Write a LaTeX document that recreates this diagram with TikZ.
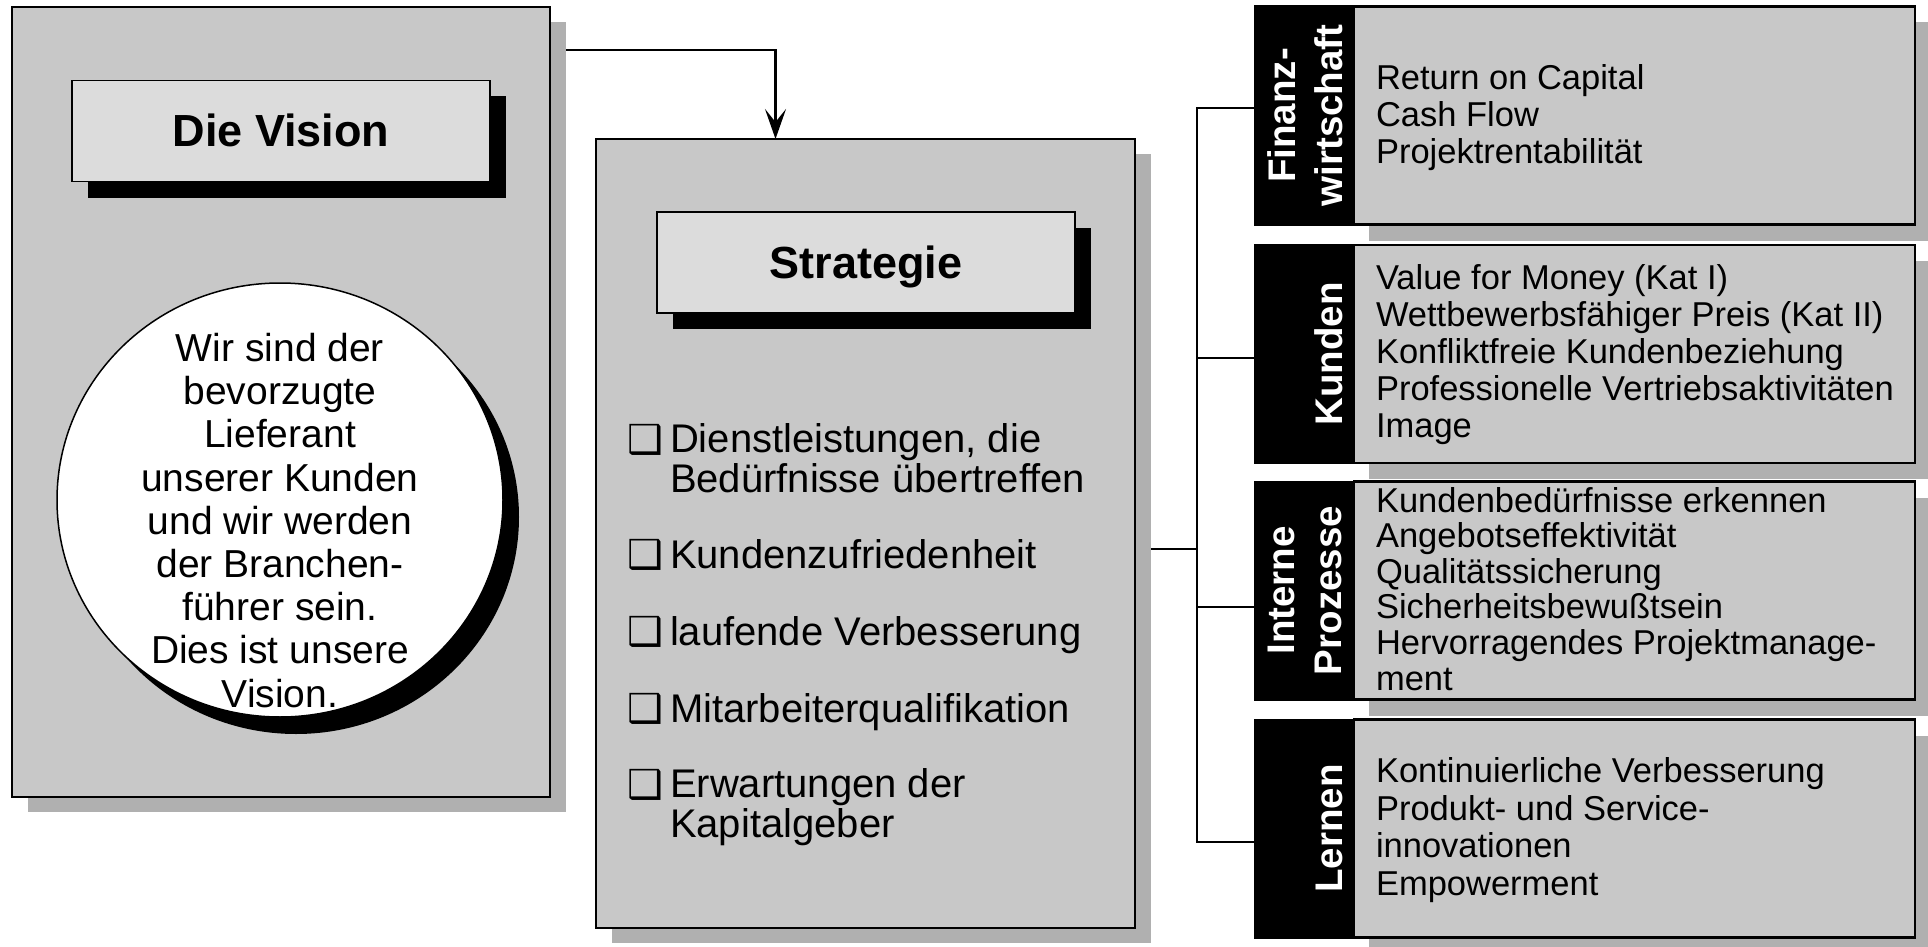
\documentclass[tikz,border=0pt]{standalone}
\usepackage{fontspec}
\setmainfont{Liberation Sans}
\newfontfamily\symfont{DejaVu Sans}
\usetikzlibrary{shapes.geometric,shadows,arrows.meta,calc}

\definecolor{boxgray}{HTML}{C8C8C8}
\definecolor{shadegray}{HTML}{B0B0B0}
\definecolor{titlegray}{HTML}{DCDCDC}

\begin{document}
\begin{tikzpicture}[x=1pt,y=-1pt,
  every node/.style={inner sep=0pt, outer sep=0pt},
  bigbox/.style={draw=black, line width=2pt, fill=boxgray,
    drop shadow={shadow xshift=16pt, shadow yshift=-15pt, fill=shadegray, opacity=1}},
  titlebox/.style={draw=black, line width=1.5pt, fill=titlegray,
    minimum width=418pt, minimum height=101pt,
    text height=32pt, text depth=0pt,
    font=\fontsize{45}{54}\selectfont\bfseries,
    drop shadow={shadow xshift=16pt, shadow yshift=-16pt, fill=black, opacity=1}},
  strip/.style={draw=black, line width=2pt, fill=black,
    minimum width=99pt, minimum height=218pt},
  listbox/.style={draw=black, line width=2.5pt, fill=boxgray,
    minimum width=561pt, minimum height=218pt,
    drop shadow={shadow xshift=15pt, shadow yshift=-16pt, fill=shadegray, opacity=1}},
  % the base anchor of a multi-line node sits on its last line
  striplabel/.style={text=white, rotate=90, anchor=base, align=center,
    font=\fontsize{38.5}{47}\selectfont\bfseries},
  listtext/.style={anchor=base west, align=left, font=\fontsize{34.5}{37}\selectfont},
  bullettext/.style={anchor=base west, align=left, font=\fontsize{40}{39.5}\selectfont},
  bulletmark/.style={anchor=base west, font=\symfont\fontsize{40}{40}\selectfont},
  conn/.style={line width=2.5pt, draw=black},
]
\useasboundingbox (0,0) rectangle (1928,947);
\clip (0,0) rectangle (1928,947);
\fill[white] (0,0) rectangle (1928,947);

% ---------- Vision column ----------
\node[bigbox, minimum width=538pt, minimum height=790pt] (vision) at (281,402) {};
\node[titlebox] (visiontitle) at (281,131) {Die Vision};
\node[ellipse, draw=black, line width=1.5pt, fill=white,
      minimum width=446pt, minimum height=434pt,
      drop shadow={shadow xshift=16pt, shadow yshift=-17pt, fill=black, opacity=1}]
      (visioncircle) at (280,500) {};
\node[anchor=base, align=center, font=\fontsize{39}{43.2}\selectfont] (visiontext) at (280,707)
  {Wir sind der\\bevorzugte\\Lieferant\\unserer Kunden\\und wir werden\\der Branchen-\\führer sein.\\Dies ist unsere\\Vision.};

% ---------- Strategy column ----------
\node[bigbox, minimum width=539pt, minimum height=789pt] (strategy) at (865.5,533.5) {};
\node[titlebox] (strategytitle) at (866,262.5) {Strategie};

\node[bulletmark] (b1) at (627,453) {❑};
\node[bullettext] (t1) at (670,492) {Dienstleistungen, die\\Bedürfnisse übertreffen};
\node[bulletmark] (b2) at (627,568) {❑};
\node[bullettext] (t2) at (670,568) {Kundenzufriedenheit};
\node[bulletmark] (b3) at (627,645) {❑};
\node[bullettext] (t3) at (670,645) {laufende Verbesserung};
\node[bulletmark] (b4) at (627,722) {❑};
\node[bullettext] (t4) at (670,722) {Mitarbeiterqualifikation};
\node[bulletmark] (b5) at (627,798) {❑};
\node[bullettext] (t5) at (670,837) {Erwartungen der\\Kapitalgeber};

% ---------- Perspective panels ----------
\node[strip] (s1) at (1304.5,115.5) {};
\node[listbox] (p1) at (1634.5,115.5) {};
\node[strip] (s2) at (1304.5,354) {};
\node[listbox] (p2) at (1634.5,354) {};
\node[strip] (s3) at (1304.5,590.5) {};
\node[listbox] (p3) at (1634.5,590.5) {};
\node[strip] (s4) at (1304.5,828.5) {};
\node[listbox] (p4) at (1634.5,828.5) {};

\node[striplabel] (l1) at (1342,115.5) {Finanz-\\wirtschaft};
\node[striplabel] (l2) at (1342,354) {Kunden};
\node[striplabel] (l3) at (1341,590.5) {Interne\\Prozesse};
\node[striplabel] (l4) at (1342,828.5) {Lernen};

\node[listtext] (x1) at (1376,164)
  {Return on Capital\\Cash Flow\\Projektrentabilität};
\node[listtext] (x2) at (1376,437)
  {Value for Money (Kat I)\\Wettbewerbsfähiger Preis (Kat II)\\Konfliktfreie Kundenbeziehung\\Professionelle Vertriebsaktivitäten\\Image};
\node[listtext, font=\fontsize{34.5}{35.6}\selectfont] (x3) at (1376,690)
  {Kundenbedürfnisse erkennen\\Angebotseffektivität\\Qualitätssicherung\\Sicherheitsbewußtsein\\Hervorragendes Projektmanage-\\ment};
\node[listtext, font=\fontsize{34.5}{37.5}\selectfont] (x4) at (1376,895)
  {Kontinuierliche Verbesserung\\Produkt- und Service-\\innovationen\\Empowerment};

% ---------- Connectors ----------
\coordinate (arrowstart) at (566,50);
\draw[conn, -{Stealth[length=30pt, width=21pt, inset=13pt]}]
  (arrowstart) -| ($(strategy.north west)+(179.5,0)$);

\coordinate (spine) at (1197,549);
\draw[conn] ($(strategy.east |- spine)+(16,0)$) -- (spine);
\draw[conn] (s1.west |- 0,108) -| (spine |- 0,842) -- (s4.west |- 0,842);
\draw[conn] (spine |- 0,358) -- (s2.west |- 0,358);
\draw[conn] (spine |- 0,607) -- (s3.west |- 0,607);
\end{tikzpicture}
\end{document}
